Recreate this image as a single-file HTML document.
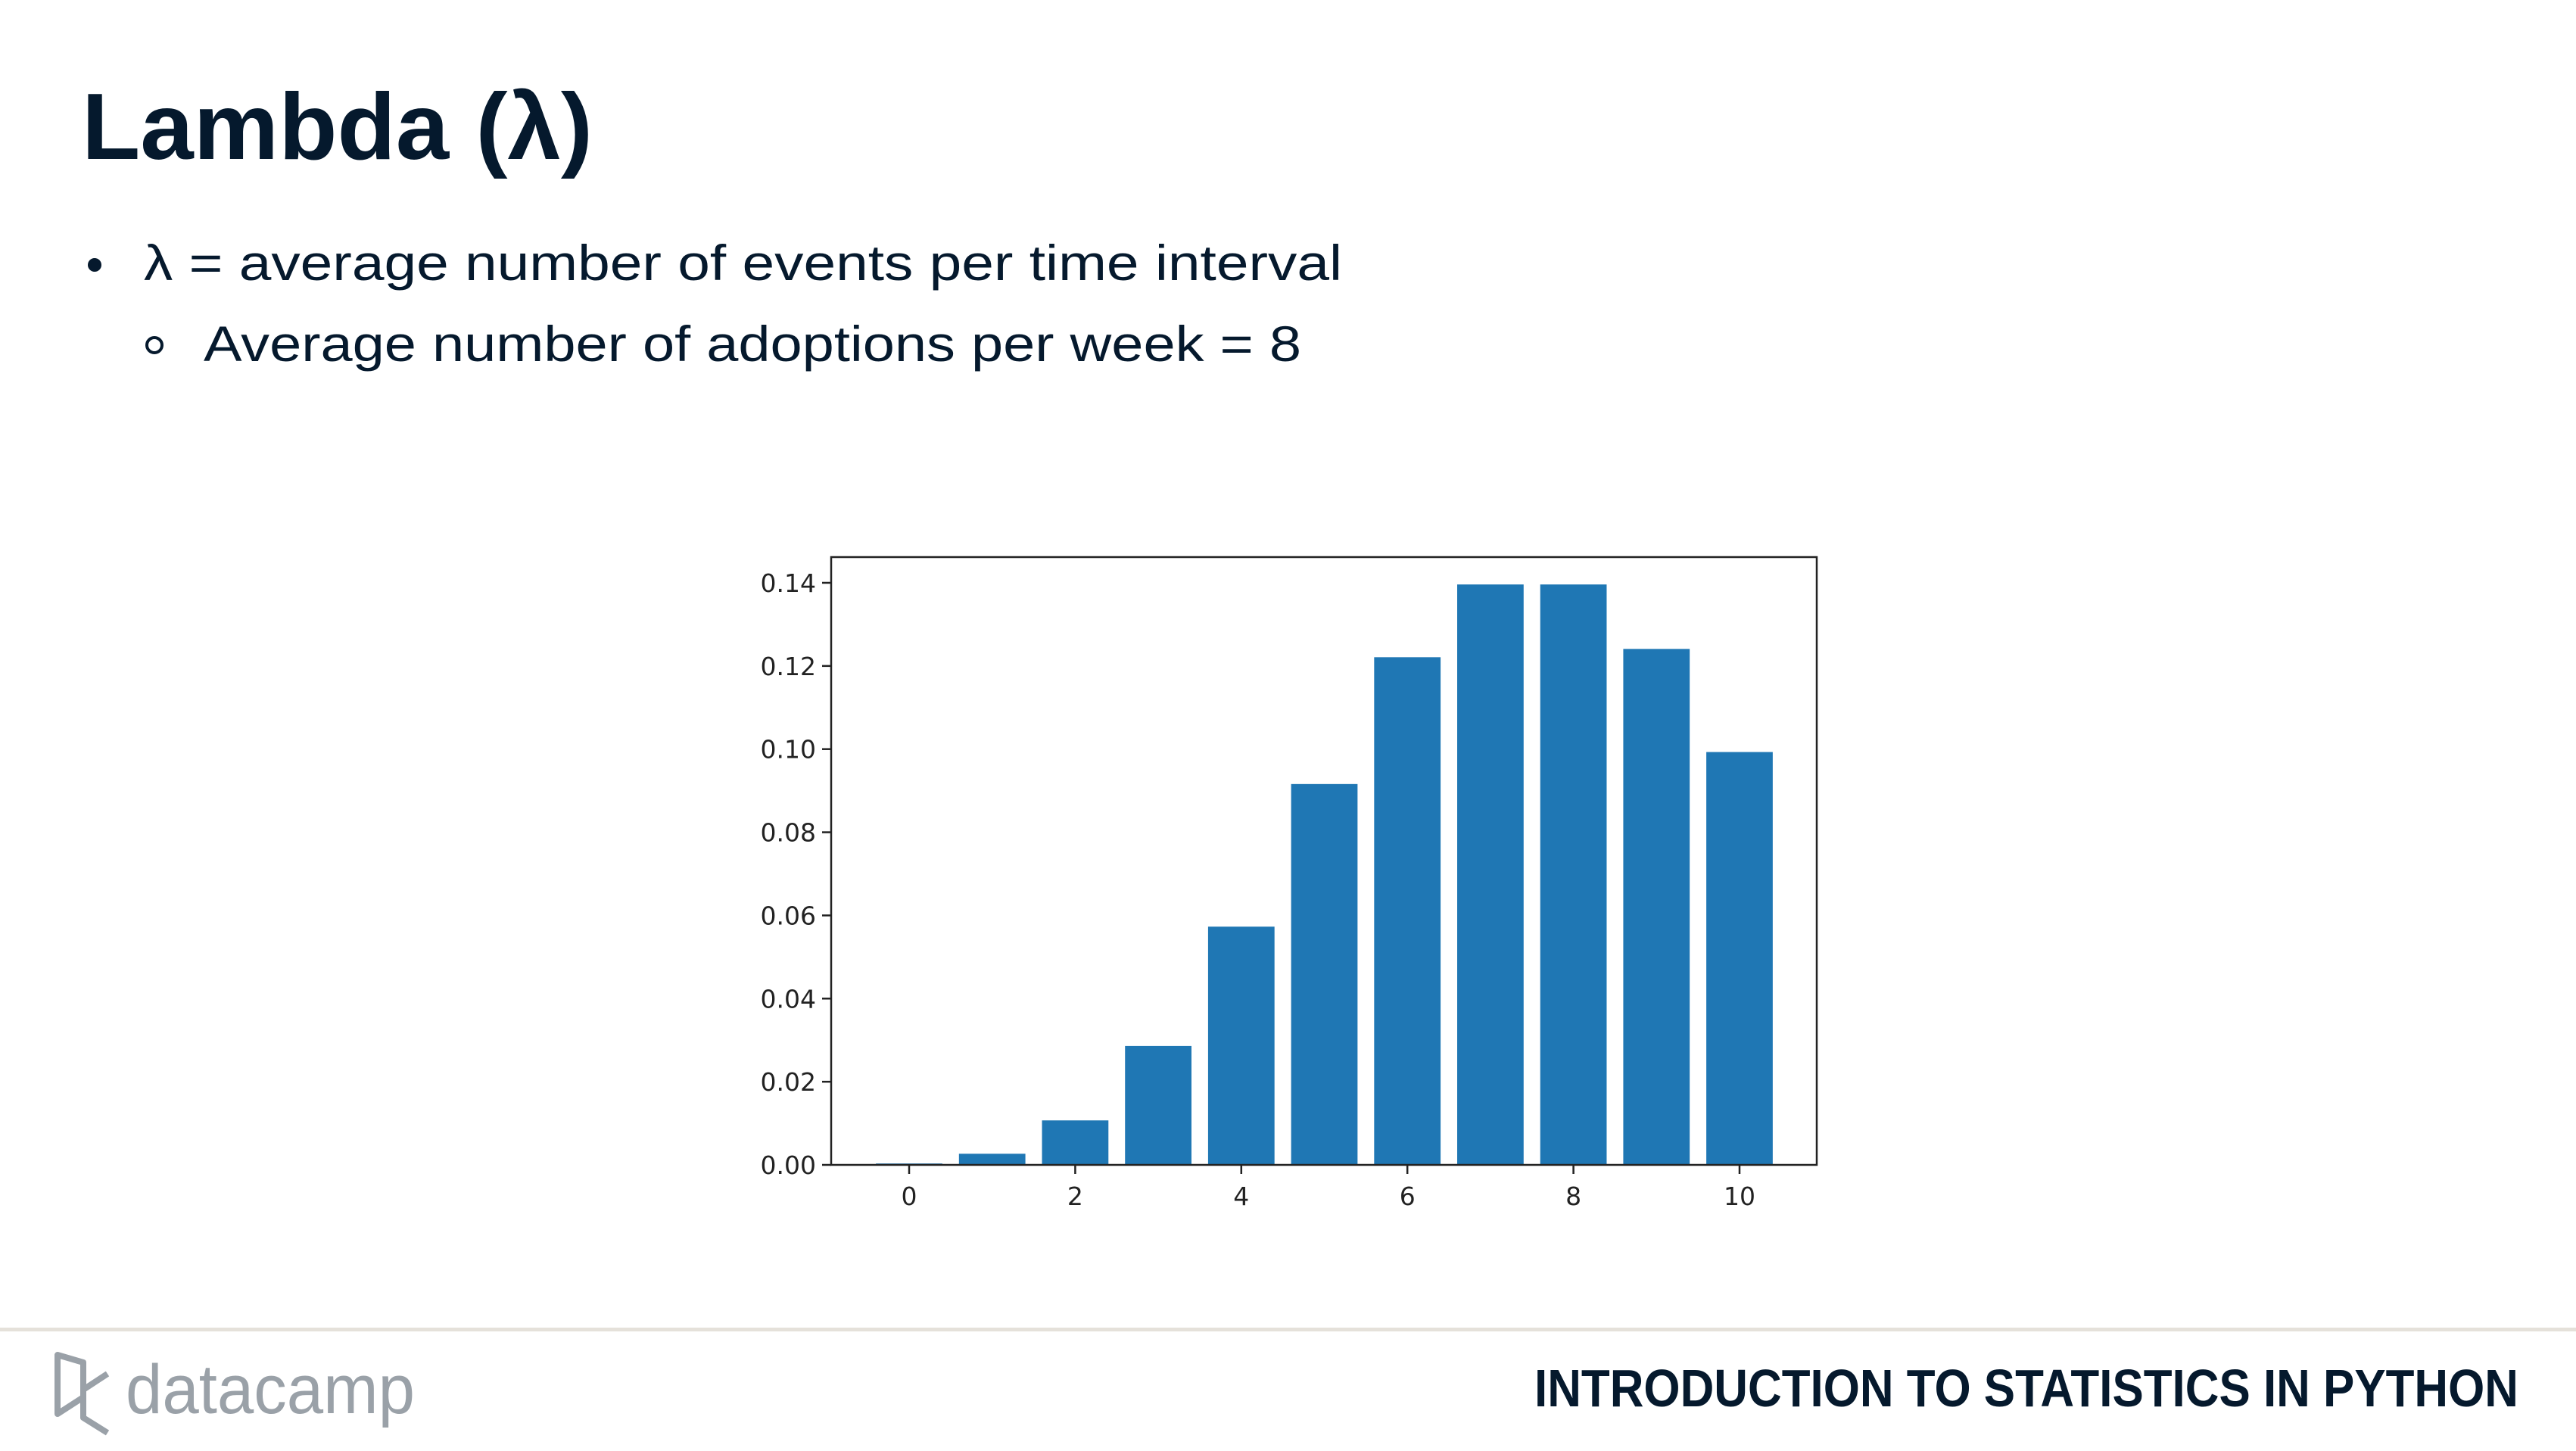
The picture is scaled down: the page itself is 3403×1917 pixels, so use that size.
<!DOCTYPE html>
<html><head><meta charset="utf-8"><style>
html,body{margin:0;padding:0;background:#fff;}
svg{display:block;}
</style></head><body>
<svg width="3403" height="1917" viewBox="0 0 3403 1917" xmlns="http://www.w3.org/2000/svg">
<text x="108" y="210" font-family="Liberation Sans, sans-serif" font-weight="bold" font-size="124" fill="#05192d" textLength="675" lengthAdjust="spacingAndGlyphs">Lambda (λ)</text>
<circle cx="125" cy="350" r="9" fill="#05192d"/>
<text x="190" y="370" font-family="Liberation Sans, sans-serif" font-size="66" fill="#05192d" textLength="1583" lengthAdjust="spacingAndGlyphs">λ = average number of events per time interval</text>
<circle cx="204" cy="456" r="10" fill="none" stroke="#05192d" stroke-width="4"/>
<text x="269" y="477" font-family="Liberation Sans, sans-serif" font-size="66" fill="#05192d" textLength="1450" lengthAdjust="spacingAndGlyphs">Average number of adoptions per week = 8</text>
<g id="chart"></g>
<rect x="0" y="1754" width="3403" height="5" fill="#e5e1da"/>
<g fill="none" stroke="#9aa1a8" stroke-width="8" stroke-linejoin="round">
<path d="M76 1790 L76 1868 L110 1846 L110 1800 Z M110 1836 L142 1815 M110 1846 L110 1873 L142 1893"/>
</g>
<text x="166" y="1867" font-family="Liberation Sans, sans-serif" font-size="92" fill="#9aa1a8" textLength="382" lengthAdjust="spacingAndGlyphs">datacamp</text>
<text x="3327" y="1858" text-anchor="end" font-family="Liberation Sans, sans-serif" font-weight="bold" font-size="70" fill="#05192d" textLength="1300" lengthAdjust="spacingAndGlyphs">INTRODUCTION TO STATISTICS IN PYTHON</text>
</svg>
<script>
const categories = [0,1,2,3,4,5,6,7,8,9,10];
const probabilities = [0.000335,0.00268,0.0107,0.0286,0.0573,0.0916,0.1221,0.1396,0.1396,0.1241,0.0993];
const yTickLabels = ["0.00","0.02","0.04","0.06","0.08","0.10","0.12","0.14"];
const yTickValues = [0,0.02,0.04,0.06,0.08,0.10,0.12,0.14];
const xTickValues = [0,2,4,6,8,10];

const NS="http://www.w3.org/2000/svg";
const g=document.getElementById('chart');
const L=1098,R=2400,T=736,B=1539;
const xMin=-0.939,xMax=10.93,yMax=(B-T)/5493;
const xs=v=>L+(v-xMin)/(xMax-xMin)*(R-L);
const ys=v=>B-v/yMax*(B-T);
function mk(t,a){const e=document.createElementNS(NS,t);for(const k in a)e.setAttribute(k,a[k]);g.appendChild(e);return e;}
const bw=(xs(0.8)-xs(0));
categories.forEach((c,i)=>{
  const r=mk('rect',{x:xs(c)-bw/2,y:ys(probabilities[i]),width:bw,height:B-ys(probabilities[i]),fill:'#1f77b4'});
  
  
});
const frame=mk('rect',{x:L,y:T,width:R-L,height:B-T,fill:'none',stroke:'#222',"stroke-width":2.5});


yTickValues.forEach((v,i)=>{
  const y=ys(v);
  const tk=mk('line',{x1:L-12,x2:L,y1:y,y2:y,stroke:'#222',"stroke-width":2.5});
  
  
  const t=mk('text',{x:L-20,y:y+12,"text-anchor":"end","font-family":"DejaVu Sans, sans-serif","font-size":33,fill:'#222'});
  t.textContent=yTickLabels[i];
  
  
});
xTickValues.forEach(v=>{
  const x=xs(v);
  const tk=mk('line',{x1:x,x2:x,y1:B,y2:B+12,stroke:'#222',"stroke-width":2.5});
  
  
  const t=mk('text',{x:x,y:B+53,"text-anchor":"middle","font-family":"DejaVu Sans, sans-serif","font-size":33,fill:'#222'});
  t.textContent=String(v);
  
  
});
</script>
</body></html>
